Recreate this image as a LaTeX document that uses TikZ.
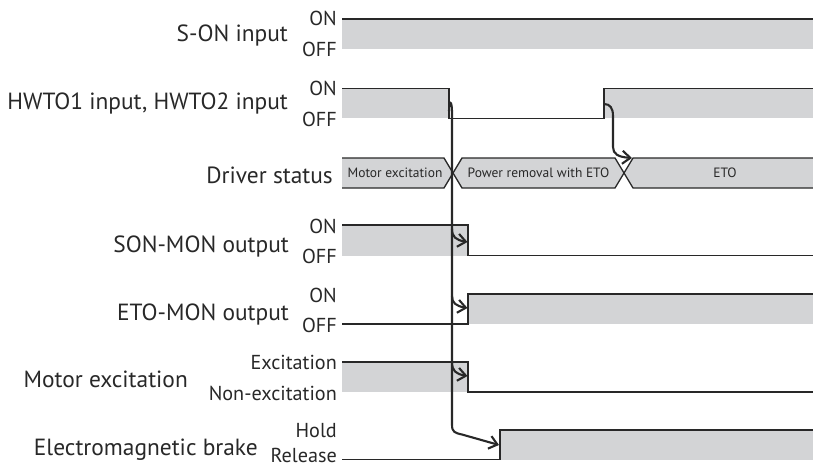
\documentclass[tikz,border=0pt]{standalone}
\usepackage{fontspec}
\setmainfont{PT Sans}
\usetikzlibrary{arrows.meta}
\definecolor{sigfill}{RGB}{211,212,214}
\definecolor{ink}{RGB}{40,40,40}
\begin{document}
\begin{tikzpicture}[x=1pt,y=-1pt,
  mainlbl/.style={font=\fontsize{23.4}{23.4}\selectfont, anchor=base east, inner sep=0pt, text=ink},
  lvl/.style={font=\fontsize{20.2}{20.2}\selectfont, anchor=base east, inner sep=0pt, text=ink},
  boxtxt/.style={font=\fontsize{13.5}{13.5}\selectfont, inner sep=0pt, text=ink},
  sig/.style={draw=ink, line width=1.3pt, line join=miter},
  band/.style={fill=sigfill},
  arr/.style={draw=ink, line width=2.1pt, -{Straight Barb[length=8pt,width=13pt,line width=2.1pt]}}]
\useasboundingbox (0,0) rectangle (813,468);

% ---------- labels ----------
\node[mainlbl] (lsone) at (288,41.7) {S-ON input};
\node[lvl] (sonon) at (337,26) {ON};
\node[lvl] (sonoff) at (337,57) {OFF};

\node[mainlbl] (lhwto) at (288,110) {HWTO1 input, HWTO2 input};
\node[lvl] (hwon) at (337,96) {ON};
\node[lvl] (hwoff) at (337,126) {OFF};

\node[mainlbl] (ldrv) at (333,183) {Driver status};

\node[mainlbl] (lsonmon) at (289,252) {SON-MON output};
\node[lvl] (smon) at (337,233) {ON};
\node[lvl] (smoff) at (337,263) {OFF};

\node[mainlbl] (letomon) at (289,320) {ETO-MON output};
\node[lvl] (emon) at (337,302) {ON};
\node[lvl] (emoff) at (337,332) {OFF};

\node[mainlbl] (lmot) at (188,387) {Motor excitation};
\node[lvl] (mexc) at (337,369.5) {Excitation};
\node[lvl] (mnon) at (337,400) {Non-excitation};

\node[mainlbl] (lbrk) at (258,455) {Electromagnetic brake};
\node[lvl] (bhold) at (337,437) {Hold};
\node[lvl] (brel) at (337,462) {Release};

% ---------- S-ON ----------
\fill[band] (342,19) rectangle (813,49);
\draw[sig] (342,19) -- (813,19);

% ---------- HWTO ----------
\fill[band] (342,88.5) rectangle (449,118.5);
\fill[band] (604,88.5) rectangle (813,118.5);
\draw[sig] (342,88.5) -- (449,88.5) -- (449,118.5) -- (604,118.5) -- (604,88.5) -- (813,88.5);

% ---------- Driver status ----------
\fill[band] (342,158) -- (444,158) -- (453,173) -- (444,188) -- (342,188) -- cycle;
\draw[sig] (342,158) -- (444,158) -- (453,173) -- (444,188) -- (342,188);
\fill[band] (462,158) -- (615,158) -- (624,173) -- (615,188) -- (462,188) -- (453,173) -- cycle;
\draw[sig] (462,158) -- (615,158) -- (624,173) -- (615,188) -- (462,188) -- (453,173) -- cycle;
\fill[band] (633,158) -- (813,158) -- (813,188) -- (633,188) -- (624,173) -- cycle;
\draw[sig] (813,158) -- (633,158) -- (624,173) -- (633,188) -- (813,188);
\node[boxtxt] (s1) at (395,173) {Motor excitation};
\node[boxtxt] (s2) at (538.5,173) {Power removal with ETO};
\node[boxtxt] (s3) at (725,173) {ETO};

% ---------- SON-MON ----------
\fill[band] (342,225) rectangle (468,255.5);
\draw[sig] (342,225) -- (468,225) -- (468,255.5) -- (813,255.5);

% ---------- ETO-MON ----------
\fill[band] (468,294) rectangle (813,324);
\draw[sig] (342,324) -- (468,324) -- (468,294) -- (813,294);

% ---------- Motor excitation ----------
\fill[band] (342,362) rectangle (468,392);
\draw[sig] (342,362) -- (468,362) -- (468,392) -- (813,392);

% ---------- Brake ----------
\fill[band] (500,430) rectangle (813,459.5);
\draw[sig] (342,459.5) -- (500,459.5) -- (500,430) -- (813,430);

% ---------- arrows ----------
\coordinate (hwfall) at (449,111);
\coordinate (bend) at (452,425);
\coordinate (brkrise) at (499,445);
\coordinate (smfall) at (467.5,242);
\coordinate (emrise) at (467.5,308);
\coordinate (mefall) at (467.5,376);
\coordinate (hwrise) at (604,104);
\coordinate (drveto) at (632,158);

\draw[arr] (hwfall) .. controls (449,100) and (452,100) .. (452,112) -- (bend)
  .. controls (452,432) and (455,433) .. (462,434.5) -- (brkrise);
\draw[arr] (452,229) .. controls (452,237) and (456,240) .. (smfall);
\draw[arr] (452,296) .. controls (452,303) and (456,306) .. (emrise);
\draw[arr] (452,362) .. controls (452,371) and (456,374) .. (mefall);
\draw[arr] (hwrise) .. controls (610,104) and (613,108) .. (613,116) -- (613,147)
  .. controls (613,154) and (618,157) .. (drveto);
\end{tikzpicture}
\end{document}
